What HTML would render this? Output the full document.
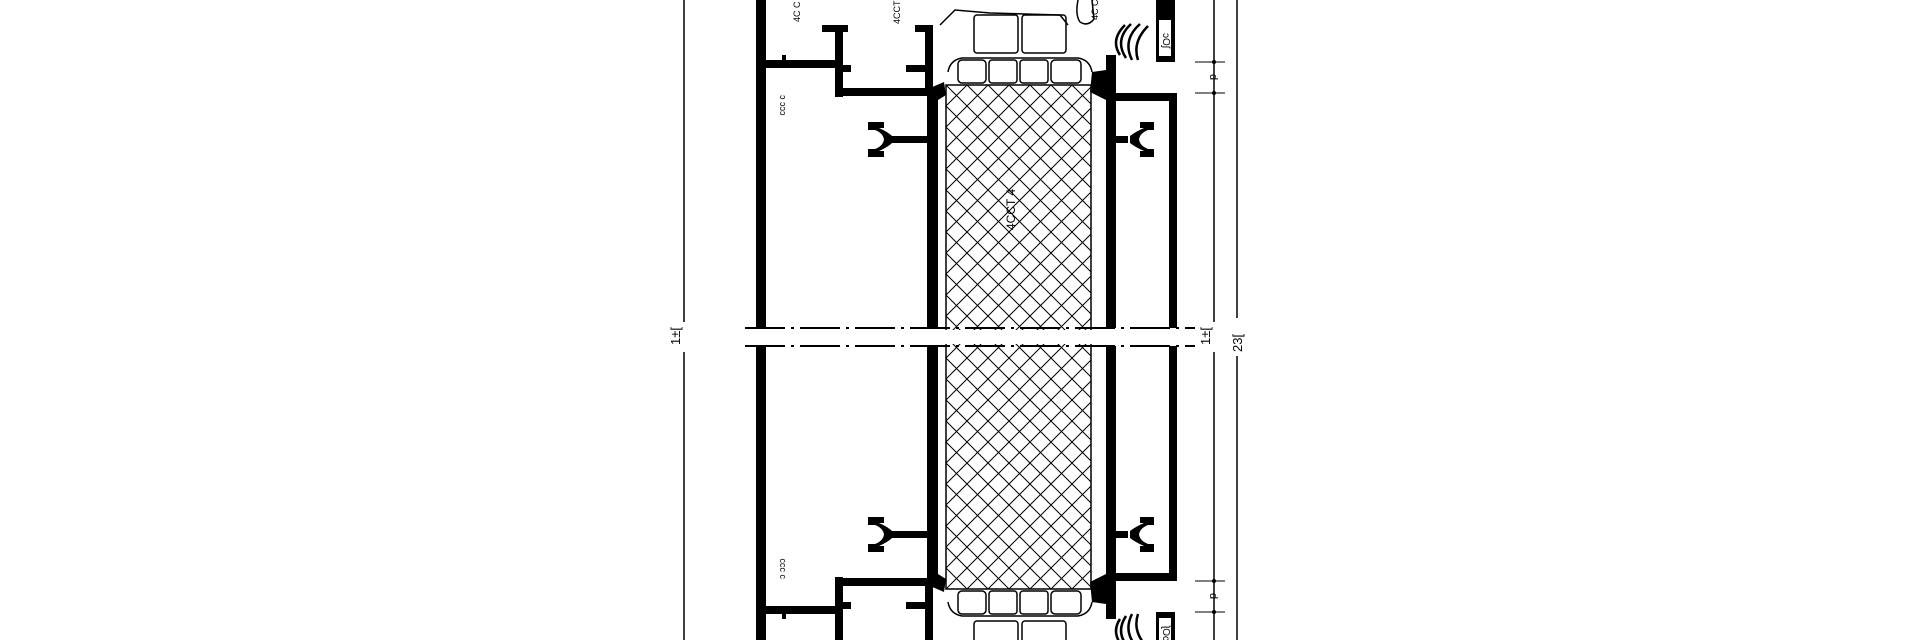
<!DOCTYPE html>
<html><head><meta charset="utf-8"><style>
html,body{margin:0;padding:0;background:#fff;width:1920px;height:640px;overflow:hidden}
svg{display:block}
text{font-family:"Liberation Sans",sans-serif;fill:#000}
</style></head><body>
<svg width="1920" height="640" viewBox="0 0 1920 640" xmlns="http://www.w3.org/2000/svg" overflow="hidden">
<defs>
<pattern id="hatch" width="21" height="21" patternUnits="userSpaceOnUse" x="946" y="85">
<path d="M0 0L21 21M21 0L0 21" stroke="#000" stroke-width="1"/>
</pattern>
<g id="half">
  <rect x="946" y="85" width="145" height="252" fill="url(#hatch)" stroke="#000" stroke-width="1.5"/>
  <rect x="756" y="0" width="10" height="328" fill="#000"/>
  <rect x="765" y="60" width="78" height="8" fill="#000"/>
  <rect x="782" y="55" width="4" height="6" fill="#000"/>
  <rect x="835" y="25" width="8" height="72" fill="#000"/>
  <rect x="822" y="25" width="26" height="7" fill="#000"/>
  <rect x="843" y="65" width="8" height="7" fill="#000"/>
  <rect x="835" y="88" width="100" height="8" fill="#000"/>
  <rect x="925" y="25" width="8" height="70" fill="#000"/>
  <rect x="915" y="25" width="18" height="7" fill="#000"/>
  <rect x="906" y="65" width="20" height="7" fill="#000"/>
  <rect x="927" y="88" width="11" height="240" fill="#000"/>
  <path d="M930 88 L944 82 L946 95 L938 100Z" fill="#000"/>
  <rect x="1106" y="55" width="10" height="273" fill="#000"/>
  <path d="M1106 70 L1092 72 L1090 92 L1106 100Z" fill="#000"/>
  <rect x="1116" y="93" width="61" height="8" fill="#000"/>
  <rect x="1169" y="93" width="8" height="235" fill="#000"/>
  <rect x="1156" y="0" width="19" height="62" fill="#000"/>
  <rect x="1159" y="20" width="12" height="36" fill="#fff"/>
  <text x="1160" y="40" font-size="10" transform="rotate(90 1165 38)">ɔOʃ</text>
  <path d="M1120 55 q-10 -15 5 -30 M1126 58 q-12 -18 5 -34 M1132 60 q-10 -20 8 -36 M1138 60 q-6 -18 10 -34" stroke="#000" stroke-width="2.5" fill="none"/>
  <path d="M1078 0 q-3 15 2 22 q8 5 14 -3 l-2 -19" stroke="#000" stroke-width="1.5" fill="none"/>
  <g fill="none" stroke="#000" stroke-width="1.5">
    <path d="M940 25 L955 10 L990 13 L1060 15 L1068 25"/>
    <rect x="974" y="15" width="44" height="38" rx="3"/>
    <rect x="1022" y="15" width="44" height="38" rx="3"/>
    <path d="M948 72 Q950 60 962 58 L1078 58 Q1090 60 1092 72"/>
    <rect x="958" y="60" width="28" height="23" rx="4"/>
    <rect x="989" y="60" width="28" height="23" rx="3"/>
    <rect x="1020" y="60" width="28" height="23" rx="3"/>
    <rect x="1051" y="60" width="30" height="23" rx="4"/>
  </g>
  <g fill="#000">
    <rect x="898" y="136" width="30" height="7"/>
    <path d="M868 122 h16 v6 h-5 q9 4 13 8 l8 0 v7 l-8 0 q-4 4 -13 8 h5 v6 h-16 v-8 h7 q8 -3 9 -9.5 q-1 -6.5 -9 -9.5 h-7z"/>
    <rect x="1116" y="136" width="12" height="7"/>
    <path d="M1154 122 h-14 v6 h4 q-9 4 -14 8 v7 q5 4 14 8 h-4 v6 h14 v-8 h-6 q-8 -3 -9 -9.5 q1 -6.5 9 -9.5 h6z"/>
  </g>
  <text x="0" y="0" font-size="9" transform="translate(800 22) rotate(-90)">4C C</text>
  <text x="0" y="0" font-size="9" transform="translate(900 24) rotate(-90)">4CCT</text>
  <text x="0" y="0" font-size="9" transform="translate(1098 20) rotate(-90)">4C C</text>
  <text x="0" y="0" font-size="9" transform="translate(780 95) rotate(90)">ɔ ɔɔɔ</text>
</g>
</defs>

<line x1="684" y1="0" x2="684" y2="322" stroke="#000" stroke-width="1.5"/>
<line x1="684" y1="352" x2="684" y2="640" stroke="#000" stroke-width="1.5"/>
<line x1="1214" y1="0" x2="1214" y2="322" stroke="#000" stroke-width="1.5"/>
<line x1="1214" y1="352" x2="1214" y2="640" stroke="#000" stroke-width="1.5"/>
<line x1="1237" y1="0" x2="1237" y2="318" stroke="#000" stroke-width="1.5"/>
<line x1="1237" y1="356" x2="1237" y2="640" stroke="#000" stroke-width="1.5"/>

<use href="#half"/>
<use href="#half" transform="translate(0,674) scale(1,-1)"/>
<text x="0" y="0" font-size="12" transform="translate(1015 230) rotate(-90)">4CCT 4</text>

<g stroke="#000" stroke-width="1">
<line x1="1195" y1="62" x2="1225" y2="62"/><line x1="1195" y1="93" x2="1225" y2="93"/>
<line x1="1195" y1="581" x2="1225" y2="581"/><line x1="1195" y1="612" x2="1225" y2="612"/>
</g>
<circle cx="1214" cy="62" r="2"/><circle cx="1214" cy="93" r="2"/>
<circle cx="1214" cy="581" r="2"/><circle cx="1214" cy="612" r="2"/>
<text font-size="11" transform="translate(1210 74) rotate(90)">d</text>
<text font-size="11" transform="translate(1210 593) rotate(90)">d</text>

<g stroke="#000" stroke-width="2" stroke-dasharray="40 6 3 6">
<line x1="745" y1="328" x2="1195" y2="328"/>
<line x1="745" y1="346" x2="1195" y2="346"/>
</g>
<rect x="740" y="330" width="460" height="14" fill="#fff"/>

<text font-size="13" transform="translate(680 345) rotate(-90)">1±[</text>
<text font-size="13" transform="translate(1210 345) rotate(-90)">1±[</text>
<text font-size="13" transform="translate(1242 352) rotate(-90)">23[</text>
</svg>
</body></html>
